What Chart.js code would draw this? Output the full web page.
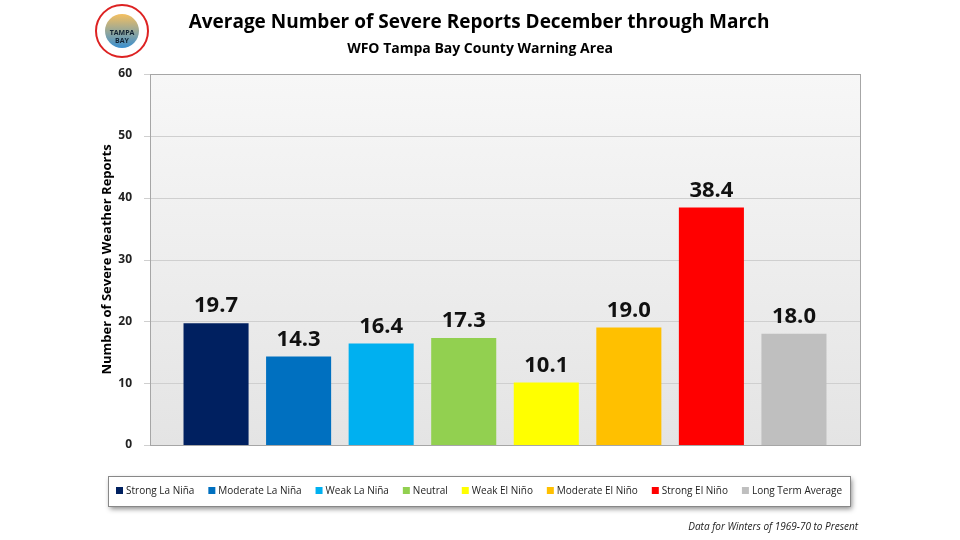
<!DOCTYPE html>
<html>
<head>
<meta charset="utf-8">
<script src="https://cdn.jsdelivr.net/npm/chart.js@4"></script>
<style>
  body { margin: 0; background: #fff; }
  #wrap { width: 960px; height: 540px; }
</style>
</head>
<body>
<div id="wrap"><canvas id="severeChart"></canvas></div>
<script>
const categories = ['Strong La Niña', 'Moderate La Niña', 'Weak La Niña', 'Neutral',
  'Weak El Niño', 'Moderate El Niño', 'Strong El Niño', 'Long Term Average'];
const reports = [19.7, 14.3, 16.4, 17.3, 10.1, 19.0, 38.4, 18.0];
const barColors = ['#002060', '#0070c0', '#00b0f0', '#92d050', '#ffff00', '#ffc000', '#ff0000', '#bfbfbf'];
const yTicks = [0, 10, 20, 30, 40, 50, 60];

const FONT = "'Open Sans', 'Liberation Sans', sans-serif";

// plot background, titles, legend, value labels, footnote, logo
const decor = {
  id: 'decor',
  beforeDatasetsDraw(chart) {
    const { ctx, chartArea: a } = chart;
    const g = ctx.createLinearGradient(0, a.top, 0, a.bottom);
    g.addColorStop(0, '#f7f7f7');
    g.addColorStop(1, '#e4e4e4');
    ctx.save();
    ctx.fillStyle = g;
    ctx.fillRect(a.left, a.top, a.right - a.left, a.bottom - a.top);
    ctx.strokeStyle = '#cfcfcf';
    ctx.lineWidth = 1;
    const y = chart.scales.y;
    yTicks.forEach(v => {
      const py = Math.round(y.getPixelForValue(v)) + 0.5;
      ctx.beginPath();
      ctx.moveTo(a.left - 6, py);
      ctx.lineTo(a.right, py);
      ctx.stroke();
    });
    ctx.restore();
  },
  afterDatasetsDraw(chart) {
    const { ctx, chartArea: a } = chart;
    ctx.save();
    ctx.strokeStyle = '#a6a6a6';
    ctx.lineWidth = 1;
    ctx.strokeRect(a.left + 0.5, a.top + 0.5, a.right - a.left, a.bottom - a.top);

    ctx.font = 'bold 22px ' + FONT;
    ctx.fillStyle = '#111';
    ctx.textAlign = 'center';
    ctx.textBaseline = 'bottom';
    chart.getDatasetMeta(0).data.forEach((bar, i) => {
      ctx.fillText(reports[i].toFixed(1), bar.x, bar.y - 6);
    });

    // titles
    ctx.fillStyle = '#000';
    ctx.textBaseline = 'middle';
    ctx.font = 'bold 19px ' + FONT;
    ctx.fillText('Average Number of Severe Reports December through March', 479, 23);
    ctx.font = 'bold 14px ' + FONT;
    ctx.fillText('WFO Tampa Bay County Warning Area', 480, 49);

    // legend frame with shadow
    ctx.shadowColor = 'rgba(0,0,0,0.45)';
    ctx.shadowBlur = 5;
    ctx.shadowOffsetX = 2;
    ctx.shadowOffsetY = 3;
    ctx.fillStyle = '#fff';
    ctx.fillRect(108, 476, 742, 30);
    ctx.shadowColor = 'transparent';
    ctx.strokeStyle = '#888';
    ctx.strokeRect(108.5, 476.5, 742, 30);

    // legend entries, spread across the frame
    ctx.font = '10px ' + FONT;
    const widths = categories.map(c => 10 + ctx.measureText(c).width);
    const total = widths.reduce((s, w) => s + w, 0);
    const gap = (726 - total) / (categories.length - 1);
    let lx = 116;
    ctx.textAlign = 'left';
    categories.forEach((c, i) => {
      ctx.fillStyle = barColors[i];
      ctx.fillRect(lx, 487, 7, 7);
      ctx.fillStyle = '#222';
      ctx.fillText(c, lx + 10, 491);
      lx += widths[i] + gap;
    });

    ctx.font = 'italic 10px ' + FONT;
    ctx.fillStyle = '#222';
    ctx.textAlign = 'right';
    ctx.fillText('Data for Winters of 1969-70 to Present', 858, 527);

    // simple logo
    ctx.beginPath();
    ctx.arc(122, 31, 26, 0, Math.PI * 2);
    ctx.fillStyle = '#fff';
    ctx.fill();
    ctx.lineWidth = 2;
    ctx.strokeStyle = '#d22';
    ctx.stroke();
    ctx.beginPath();
    ctx.arc(122, 31, 17, 0, Math.PI * 2);
    const lgGrad = ctx.createLinearGradient(0, 14, 0, 48);
    lgGrad.addColorStop(0, '#f5c060');
    lgGrad.addColorStop(1, '#3a8fd0');
    ctx.fillStyle = lgGrad;
    ctx.fill();
    ctx.font = 'bold 7px ' + FONT;
    ctx.fillStyle = '#123';
    ctx.textAlign = 'center';
    ctx.fillText('TAMPA', 122, 33);
    ctx.fillText('BAY', 122, 41);
    ctx.restore();
  }
};

new Chart(document.getElementById('severeChart'), {
  type: 'bar',
  data: {
    datasets: [{
      data: reports.map((v, i) => ({ x: i, y: v })),
      backgroundColor: barColors,
      barPercentage: 0.985,
      categoryPercentage: 1
    }]
  },
  options: {
    responsive: true,
    maintainAspectRatio: false,
    animation: false,
    layout: { padding: { left: 95, right: 100, top: 74, bottom: 87 } },
    plugins: {
      legend: { display: false },
      tooltip: { enabled: false }
    },
    scales: {
      x: {
        type: 'linear',
        min: -0.8,
        max: 7.8,
        offset: false,
        ticks: { display: false },
        grid: { display: false },
        border: { display: false }
      },
      y: {
        min: 0,
        max: 60,
        afterBuildTicks: axis => { axis.ticks = yTicks.map(v => ({ value: v })); },
        afterFit: axis => { axis.width = 55; },
        ticks: { font: { family: FONT, size: 12, weight: 'bold' }, color: '#222', padding: 10 },
        grid: { display: false },
        border: { display: false },
        title: {
          display: true,
          text: 'Number of Severe Weather Reports',
          font: { family: FONT, size: 13, weight: 'bold' },
          color: '#000',
          padding: { bottom: 2 }
        }
      }
    }
  },
  plugins: [decor]
});
</script>
</body>
</html>
